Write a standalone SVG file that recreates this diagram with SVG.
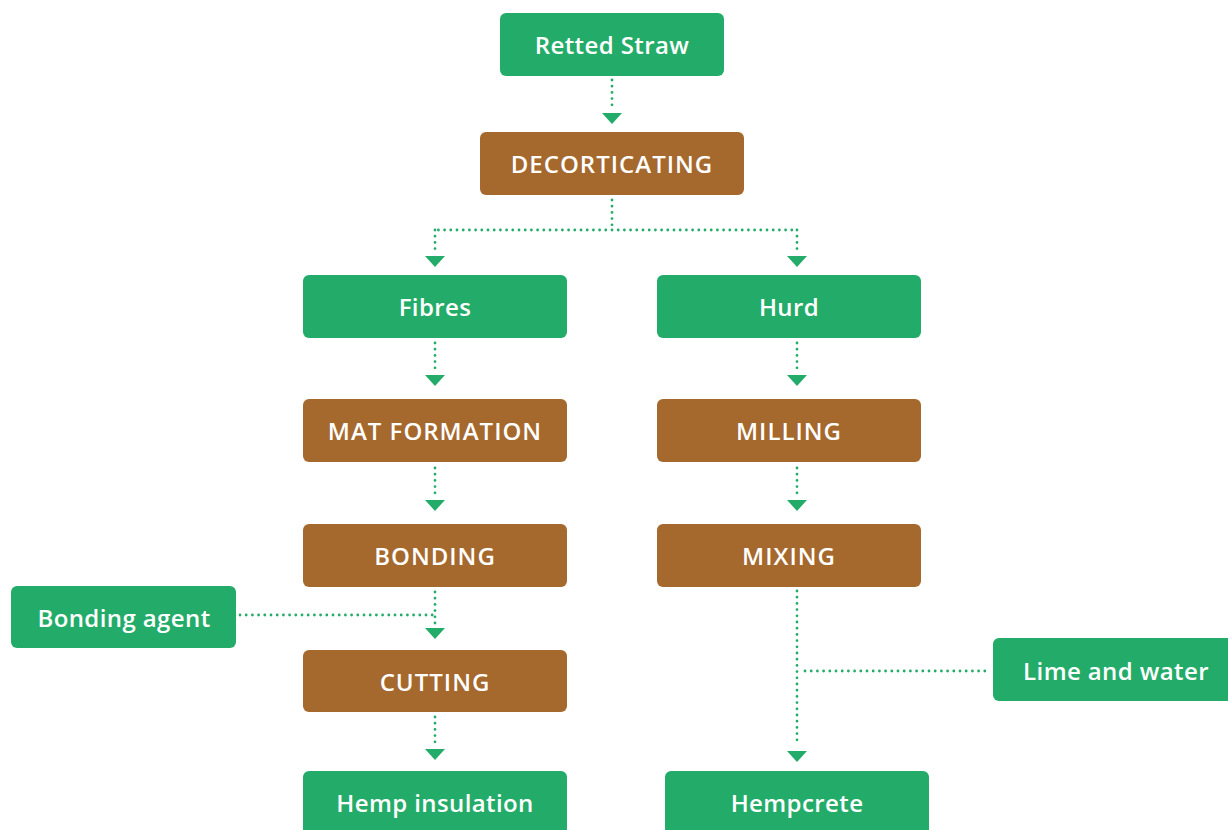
<svg xmlns="http://www.w3.org/2000/svg" width="1228" height="830" viewBox="0 0 1228 830">
<style>
.g{fill:#23AC69}
.b{fill:#A5682D}
.t{fill:#fff;font-family:"Open Sans",Lato,sans-serif;font-weight:600;font-size:24px;letter-spacing:0.4px;text-anchor:middle;dominant-baseline:central}
.c{letter-spacing:1px}
.d{fill:none;stroke:#23AC69;stroke-width:2.8;stroke-linecap:round;stroke-dasharray:0 6.2}
.a{fill:#23AC69}
</style>
<rect width="1228" height="830" fill="#fff"/>
<g id="connectors">
<path class="d" d="M612 80V110"/><path class="a" d="M602 113h20l-10 11z"/>
<path class="d" d="M612 200V230M612 230H435M612 230H797M435 230V253M797 230V253"/>
<path class="a" d="M425 256h20l-10 11z"/><path class="a" d="M787 256h20l-10 11z"/>
<path class="d" d="M435 343V372"/><path class="a" d="M425 375h20l-10 11z"/>
<path class="d" d="M797 343V372"/><path class="a" d="M787 375h20l-10 11z"/>
<path class="d" d="M435 468V497"/><path class="a" d="M425 500h20l-10 11z"/>
<path class="d" d="M797 468V497"/><path class="a" d="M787 500h20l-10 11z"/>
<path class="d" d="M435 592V625M240 615H435"/><path class="a" d="M425 628h20l-10 11z"/>
<path class="d" d="M435 717V745"/><path class="a" d="M425 749h20l-10 11z"/>
<path class="d" d="M797 591V745M805 671H990"/><path class="a" d="M787 751h20l-10 11z"/>
</g>
<g id="retted"><rect class="g" x="500" y="13" width="224" height="63" rx="6"/><text class="t" x="612" y="44">Retted Straw</text></g>
<g id="decort"><rect class="b" x="480" y="132" width="264" height="63" rx="6"/><text class="t c" x="612" y="163">DECORTICATING</text></g>
<g id="fibres"><rect class="g" x="303" y="275" width="264" height="63" rx="6"/><text class="t" x="435" y="306">Fibres</text></g>
<g id="hurd"><rect class="g" x="657" y="275" width="264" height="63" rx="6"/><text class="t" x="789" y="306">Hurd</text></g>
<g id="mat"><rect class="b" x="303" y="399" width="264" height="63" rx="6"/><text class="t c" x="435" y="430">MAT FORMATION</text></g>
<g id="milling"><rect class="b" x="657" y="399" width="264" height="63" rx="6"/><text class="t c" x="789" y="430">MILLING</text></g>
<g id="bonding"><rect class="b" x="303" y="524" width="264" height="63" rx="6"/><text class="t c" x="435" y="555">BONDING</text></g>
<g id="mixing"><rect class="b" x="657" y="524" width="264" height="63" rx="6"/><text class="t c" x="789" y="555">MIXING</text></g>
<g id="agent"><rect class="g" x="11" y="586" width="225" height="62" rx="6"/><text class="t" x="124" y="617">Bonding agent</text></g>
<g id="cutting"><rect class="b" x="303" y="650" width="264" height="62" rx="6"/><text class="t c" x="435" y="681">CUTTING</text></g>
<g id="lime"><rect class="g" x="993" y="638" width="245" height="63" rx="6"/><text class="t" x="1116" y="670">Lime and water</text></g>
<g id="insulation"><rect class="g" x="303" y="771" width="264" height="70" rx="6"/><text class="t" x="435" y="802">Hemp insulation</text></g>
<g id="hempcrete"><rect class="g" x="665" y="771" width="264" height="70" rx="6"/><text class="t" x="797" y="802">Hempcrete</text></g>
</svg>
